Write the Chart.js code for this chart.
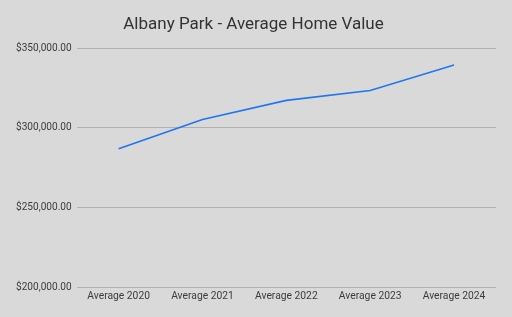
<!DOCTYPE html>
<html>
<head>
<meta charset="utf-8">
<script src="https://cdn.jsdelivr.net/npm/chart.js@4/dist/chart.umd.min.js"></script>
<style>
  html, body { margin: 0; padding: 0; background: #d9d9d9; }
  #wrap { width: 512px; height: 317px; }
</style>
</head>
<body>
<div id="wrap"><canvas id="myChart" width="512" height="317"></canvas></div>
<script>
var categories = ['Average 2020', 'Average 2021', 'Average 2022', 'Average 2023', 'Average 2024'];
var homeValues = [286900, 305200, 317200, 323400, 339300];
var yTicks = [200000, 250000, 300000, 350000];

// grey page background painted behind the chart
var bgPlugin = {
  id: 'bg',
  beforeDraw: function (chart) {
    var c = chart.ctx;
    c.save();
    c.fillStyle = '#d9d9d9';
    c.fillRect(0, 0, chart.width, chart.height);
    c.restore();
  }
};

var ctx = document.getElementById('myChart').getContext('2d');
var myChart = new Chart(ctx, {
  type: 'line',
  data: {
    labels: categories,
    datasets: [{
      label: 'Average Home Value',
      data: homeValues,
      borderColor: '#1f77f0',
      borderWidth: 1.6,
      pointRadius: 0,
      tension: 0,
      fill: false
    }]
  },
  options: {
    responsive: false,
    animation: false,
    layout: { padding: { left: 11, right: 16, top: 12, bottom: 11 } },
    plugins: {
      legend: { display: false },
      tooltip: { enabled: false },
      title: {
        display: true,
        text: 'Albany Park - Average Home Value',
        color: '#333333',
        font: { family: 'Roboto', size: 17, weight: 'normal' },
        padding: { top: 3, bottom: 12.6 }
      }
    },
    scales: {
      x: {
        offset: true,
        grid: { display: false, drawTicks: false },
        border: { display: false },
        ticks: {
          color: '#3c3c3c',
          font: { family: 'Roboto', size: 10.3 },
          padding: 3,
          maxRotation: 0
        }
      },
      y: {
        min: yTicks[0],
        max: yTicks[yTicks.length - 1],
        afterBuildTicks: function (axis) {
          axis.ticks = yTicks.map(function (v) { return { value: v }; });
        },
        grid: { color: '#b0b0b0', drawTicks: false, lineWidth: 1 },
        border: { display: false },
        ticks: {
          color: '#3c3c3c',
          font: { family: 'Roboto', size: 10.1 },
          padding: 5,
          callback: function (v) {
            return '$' + Number(v).toLocaleString('en-US', { minimumFractionDigits: 2, maximumFractionDigits: 2 });
          }
        }
      }
    }
  },
  plugins: [bgPlugin]
});
</script>
</body>
</html>
